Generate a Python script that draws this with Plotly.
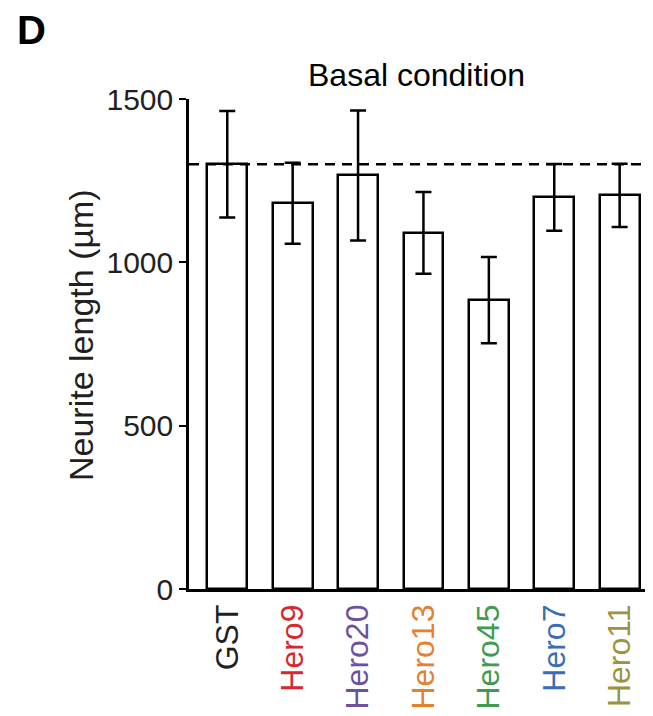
import plotly.graph_objects as go

categories = ["GST", "Hero9", "Hero20", "Hero13", "Hero45", "Hero7", "Hero11"]
label_colors = ["#231f20", "#d42a2f", "#6e4fa0", "#e3812f", "#3e9b4f", "#3a6db5", "#9a9440"]
means = [1300, 1181, 1266, 1090, 884, 1199, 1205]
errors = [163, 124, 199, 125, 132, 102, 97]
reference_value = 1300
y_ticks = [0, 500, 1000, 1500]

FONT = "Liberation Sans, Arial, Helvetica, sans-serif"
PAGE_OFF = 8  # default body margin of the html page
W, H = 653 - PAGE_OFF, 716 - PAGE_OFF
# plot area in page pixels
PL, PR, PT, PB = 189, 653, 99, 589
L, R, T, B = PL - PAGE_OFF, 653 - PR, PT - PAGE_OFF, 716 - PB


def px(x):
    return (x - PL) / (PR - PL)


def py(y):
    return (PB - y) / (PB - PT)


fig = go.Figure()
fig.add_trace(go.Bar(
    x=list(range(len(categories))),
    y=means,
    width=0.61,
    marker=dict(color="white", line=dict(color="black", width=2.5)),
    error_y=dict(type="data", array=errors, visible=True, color="black",
                 thickness=2.5, width=8),
    showlegend=False,
))

fig.add_shape(type="line", xref="paper", yref="y", x0=0, x1=1,
              y0=reference_value, y1=reference_value,
              line=dict(color="black", width=2.5, dash="10px,7px"))

ticktext = [f"<span style='color:{c}'>{t}</span>" for t, c in zip(categories, label_colors)]

fig.update_layout(
    width=W, height=H,
    margin=dict(l=L, r=R, t=T, b=B, autoexpand=False),
    plot_bgcolor="white", paper_bgcolor="white",
    font=dict(family=FONT, size=30, color="#231f20"),
    bargap=0,
    xaxis=dict(
        range=[-0.585, 6.51],
        tickmode="array", tickvals=list(range(len(categories))), ticktext=ticktext,
        tickangle=-90, ticks="", showgrid=False, zeroline=False,
        showline=True, linecolor="black", linewidth=2.5,
        tickfont=dict(family=FONT, size=32),
        ticklabelstandoff=0,
    ),
    yaxis=dict(
        range=[0, 1500],
        tickmode="array", tickvals=y_ticks,
        ticks="outside", ticklen=7, tickwidth=2, tickcolor="black",
        showgrid=False, zeroline=False,
        showline=True, linecolor="black", linewidth=2.5,
        tickfont=dict(family=FONT, size=30, color="#231f20"),
    ),
)

fig.add_annotation(text="Neurite length (µm)", xref="paper", yref="paper",
                   x=px(81), y=py(335),
                   textangle=-90, showarrow=False,
                   font=dict(family=FONT, size=34, color="#231f20"),
                   xanchor="center", yanchor="middle")
fig.add_annotation(text="Basal condition", xref="paper", yref="paper",
                   x=px(416), y=py(75),
                   showarrow=False,
                   font=dict(family=FONT, size=32, color="black"),
                   xanchor="center", yanchor="middle")
fig.add_annotation(text="<b>D</b>", xref="paper", yref="paper",
                   x=px(31), y=py(30),
                   showarrow=False,
                   font=dict(family=FONT, size=40, color="black"),
                   xanchor="center", yanchor="middle")

fig.write_html("out.html")
